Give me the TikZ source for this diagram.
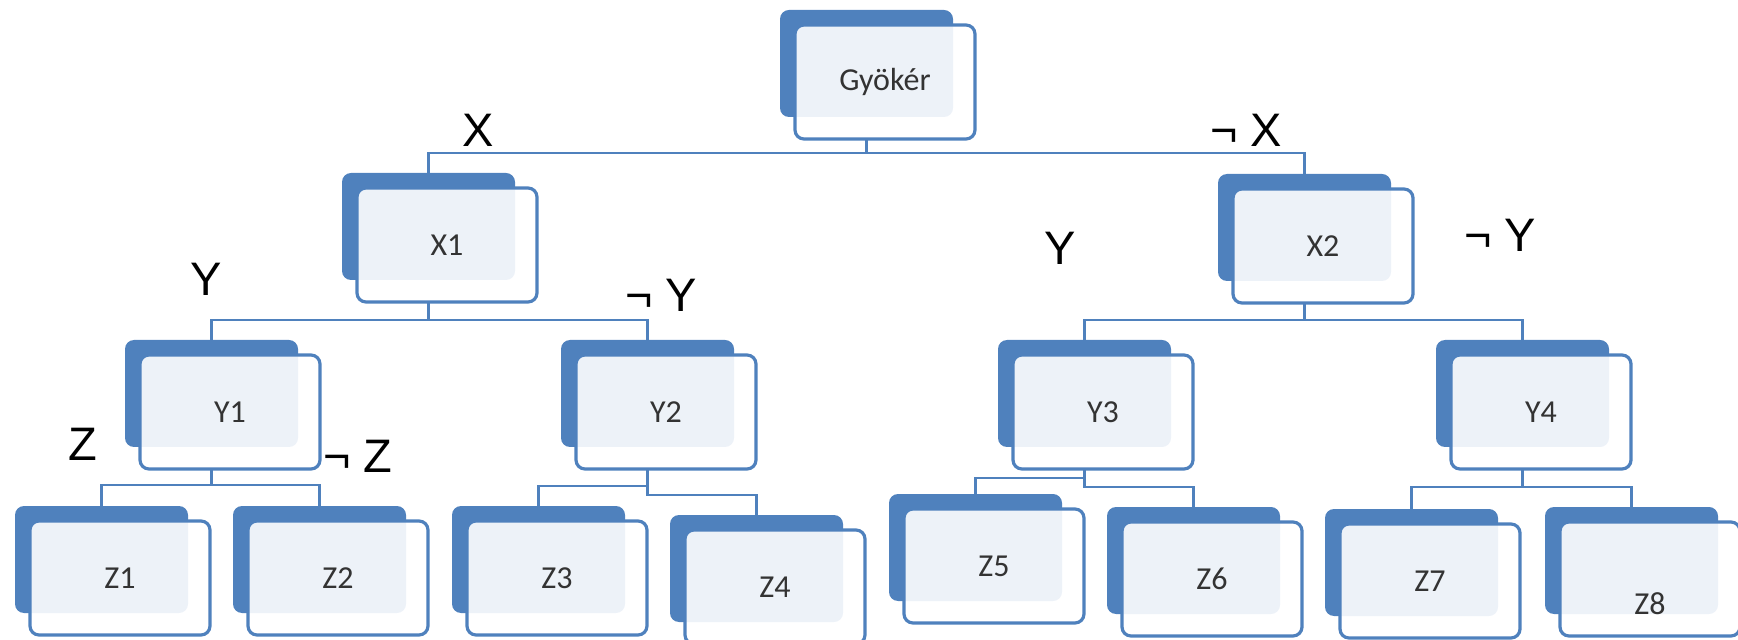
\documentclass[tikz,border=0pt]{standalone}
\usepackage{fontspec}
\setmainfont{Carlito}
\newfontfamily\labelfont{Liberation Sans}
\definecolor{boxblue}{HTML}{4F81BD}
\definecolor{boxtext}{HTML}{333333}

% A tree box: solid blue card behind, pale card in front.
% #1 name, #2 left edge and #3 top edge of the back card (px), #4 text
\newcommand\treebox[4]{%
  \node[backbox] (#1b) at ({#2+86.5},{#3+53.5}) {};
  \node[frontbox] (#1) at ({#2+105},{#3+72}) {#4};
}

\begin{document}
\begin{tikzpicture}[x=0.5pt, y=-0.5pt,
  backbox/.style={fill=boxblue, rounded corners=4.5pt, minimum width=86.5pt,
    minimum height=53.5pt, inner sep=0pt, outer sep=0pt},
  frontbox/.style={draw=boxblue, line width=1.6pt, fill=white, fill opacity=0.9,
    text opacity=1, rounded corners=4.5pt, minimum width=90pt, minimum height=57pt,
    inner sep=0pt, outer sep=0pt, text=boxtext, font=\fontsize{16}{19}\selectfont},
  boxlabel/.style={text=boxtext, text opacity=1, fill opacity=1, inner sep=0pt,
    font=\fontsize{16}{19}\selectfont},
  conn/.style={draw=boxblue, line width=1.4pt},
  edgelabel/.style={anchor=base west, inner sep=0pt, text=black,
    font=\labelfont\fontsize{23.5}{28}\selectfont}]

\useasboundingbox (0,0) rectangle (1738,640);

% boxes
\treebox{root}{780}{10}{Gyökér}
\treebox{xa}{342}{173}{X1}
\treebox{xb}{1218}{174}{X2}
\treebox{ya}{125}{340}{Y1}
\treebox{yb}{561}{340}{Y2}
\treebox{yc}{998}{340}{Y3}
\treebox{yd}{1436}{340}{Y4}
\treebox{za}{15}{506}{Z1}
\treebox{zb}{233}{506}{Z2}
\treebox{zc}{452}{506}{Z3}
\treebox{zd}{670}{515}{Z4}
\treebox{ze}{889}{494}{Z5}
\treebox{zf}{1107}{507}{Z6}
\treebox{zg}{1325}{509}{Z7}
\node[backbox] (zhb) at ({1545+86.5},{507+53.5}) {};
\node[frontbox, label={[boxlabel, yshift=-12.5pt]center:Z8}] (zh) at ({1545+105},{507+72}) {};

% bus levels of the connectors
\coordinate (bus0) at (0,153);
\coordinate (bus1) at (0,320);
\coordinate (bus2) at (0,485);
\coordinate (bus3) at (0,486);
\coordinate (bus4) at (0,495);
\coordinate (bus5) at (0,478);
\coordinate (bus6) at (0,487);

% connectors
\draw[conn] (rootb.south |- root.south) -- (rootb.south |- bus0) -| (xab.north);
\draw[conn] (rootb.south |- bus0) -| (xbb.north);

\draw[conn] (xab.south |- xa.south) -- (xab.south |- bus1) -| (yab.north);
\draw[conn] (xab.south |- bus1) -| (ybb.north);
\draw[conn] (xbb.south |- xb.south) -- (xbb.south |- bus1) -| (ycb.north);
\draw[conn] (xbb.south |- bus1) -| (ydb.north);

\draw[conn] (yab.south |- ya.south) -- (yab.south |- bus2) -| (zab.north);
\draw[conn] (yab.south |- bus2) -| (zbb.north);
\draw[conn] (ybb.south |- yb.south) -- (ybb.south |- bus3) -| (zcb.north);
\draw[conn] (ybb.south |- bus3) -- (ybb.south |- bus4) -| (zdb.north);
\draw[conn] (ycb.south |- yc.south) -- (ycb.south |- bus5) -| (zeb.north);
\draw[conn] (ycb.south |- bus5) -- (ycb.south |- bus6) -| (zfb.north);
\draw[conn] (ydb.south |- yd.south) -- (ydb.south |- bus6) -| (zgb.north);
\draw[conn] (ydb.south |- bus6) -| (zhb.north);

% branch labels
\node[edgelabel] (lx)  at (462,147)  {X};
\node[edgelabel] (lnx) at (1210,147) {¬ X};
\node[edgelabel] (lyr) at (1044,265) {Y};
\node[edgelabel] (lnyr) at (1464,252) {¬ Y};
\node[edgelabel] (lyl) at (190,296)  {Y};
\node[edgelabel] (lnyl) at (625,312) {¬ Y};
\node[edgelabel] (lz)  at (68,460)   {Z};
\node[edgelabel] (lnz) at (323,473)  {¬ Z};
\end{tikzpicture}
\end{document}
